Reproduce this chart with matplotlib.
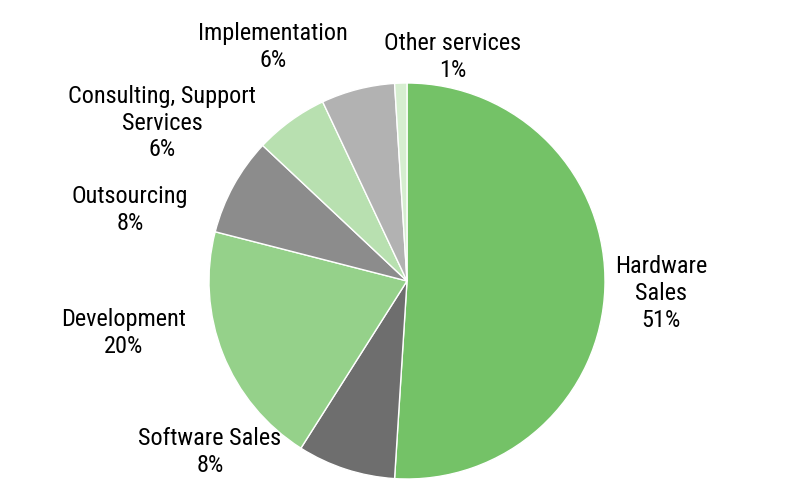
import matplotlib
matplotlib.use("Agg")
import matplotlib.pyplot as plt
from matplotlib import font_manager

names = {f.name for f in font_manager.fontManager.ttflist}
family = next((n for n in ["Roboto Condensed", "Archivo Narrow", "PT Sans Narrow", "Liberation Sans"]
               if n in names), "DejaVu Sans")

categories = ["Hardware\nSales", "Software Sales", "Development", "Outsourcing",
              "Consulting, Support\nServices", "Implementation", "Other services"]
values = [51, 8, 20, 8, 6, 6, 1]
colors = ["#74C267", "#6E6E6E", "#95D18A", "#8C8C8C", "#B8E0B0", "#B2B2B2", "#D6EED0"]

fig = plt.figure(figsize=(8, 4.89), dpi=100)
ax = fig.add_axes([0, 0, 1, 1])
ax.pie(values, colors=colors, startangle=90, counterclock=False, radius=1.0,
       wedgeprops=dict(edgecolor="white", linewidth=1.0))

label_pos = [(1.283, -0.056), (-0.995, -0.859), (-1.434, -0.258), (-1.399, 0.364),
             (-1.237, 0.803), (-0.677, 1.187), (0.232, 1.136)]
for cat, v, (x, y) in zip(categories, values, label_pos):
    ax.text(x, y, f"{cat}\n{v}%", ha="center", va="center", fontsize=17.5,
            family=family, fontweight="normal", linespacing=1.22, color="black")

scale = 198.0
ax.set_xlim(-407 / scale, (800 - 407) / scale)
ax.set_ylim(-(489 - 282) / scale, 282 / scale)
ax.set_aspect("equal")
ax.axis("off")
fig.savefig("out.png", dpi=100)
